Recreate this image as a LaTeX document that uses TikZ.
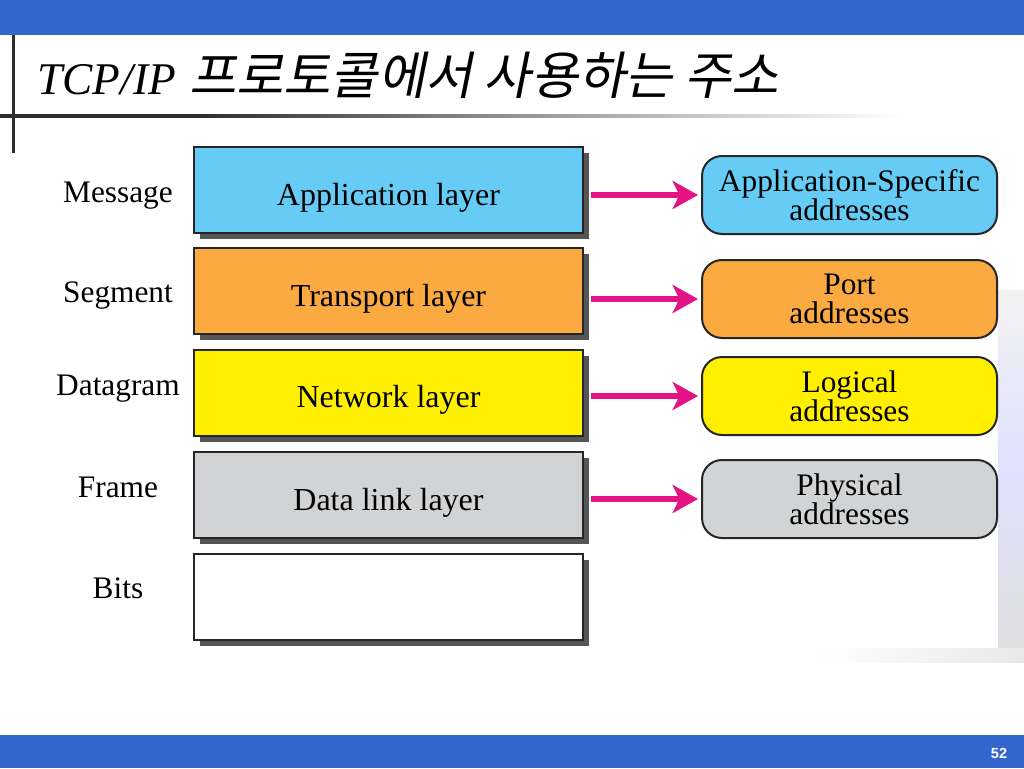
\documentclass[tikz,border=0pt]{standalone}
\usepackage{fontspec}
\setmainfont{Liberation Serif}
\newfontfamily\krfont[FakeSlant=0.2]{Noto Sans CJK KR}
\newfontfamily\numfont{Liberation Sans}
\usetikzlibrary{shadows,arrows.meta}
\definecolor{barblue}{RGB}{51,102,204}
\definecolor{appblue}{RGB}{102,204,245}
\definecolor{tporange}{RGB}{250,170,65}
\definecolor{netyellow}{RGB}{255,240,0}
\definecolor{dlgray}{RGB}{210,211,213}
\definecolor{shadowgray}{RGB}{85,85,85}
\definecolor{arrmag}{RGB}{228,20,135}
\definecolor{linedark}{RGB}{45,45,45}
\pgfdeclarehorizontalshading{titlerule}{100bp}{color(0bp)=(linedark); color(25bp)=(linedark); color(36bp)=(linedark); color(52bp)=(linedark!55); color(75bp)=(white); color(100bp)=(white)}
\tikzset{
  layerbox/.style={draw=black!85, line width=1.5pt, minimum width=291.75pt, minimum height=64.5pt,
    text height=22.5pt, text depth=0pt, font=\fontsize{24}{26}\selectfont,
    drop shadow={shadow xshift=4.5pt, shadow yshift=-4.5pt, fill=shadowgray, opacity=1}},
  addrbox/.style={draw=black!85, line width=1.5pt, rounded corners=15pt, minimum width=221.25pt,
    minimum height=58.5pt, align=center, font=\fontsize{23.5}{21.5}\selectfont},
  unitlabel/.style={anchor=base, font=\fontsize{23.5}{26}\selectfont},
  maparrow/.style={draw=arrmag, line width=4.5pt, shorten <=5.25pt, shorten >=2.25pt,
    -{Stealth[length=19pt,width=21pt,inset=5pt]}}
}
\begin{document}
\begin{tikzpicture}[x=0.75pt,y=-0.75pt]
\useasboundingbox (0,0) rectangle (1024,768);
\fill[white] (0,0) rectangle (1024,768);
% faded background picture at right edge
\shade[top color=gray!10, bottom color=gray!25, middle color=blue!12] (998,290) rectangle (1024,648);
\shade[left color=white, right color=gray!18] (815,648) rectangle (1024,662);
% bars
\fill[barblue] (0,0) rectangle (1024,35);
\fill[barblue] (0,735) rectangle (1024,768);
\node[text=white, font=\numfont\bfseries\fontsize{11}{11}\selectfont] (pagenum) at (999,753) {52};
% title decoration lines
\draw[line width=2.25pt, linedark] (13,35) -- (13,153);
\shade[shading=titlerule] (0,114.5) rectangle (900,117.5);
% title
\node[anchor=base west, inner sep=0pt, text=black, font=\fontsize{34}{36}\selectfont] (title) at (37,94)
  {\textit{TCP/IP}\hspace{10pt}{\krfont\fontsize{38.5}{40}\selectfont 프로토콜에서 사용하는 주소}};
% layer boxes
\node[layerbox, fill=appblue] (app) at (388.5,190) {Application layer};
\node[layerbox, fill=tporange] (tp) at (388.5,291) {Transport layer};
\node[layerbox, fill=netyellow] (net) at (388.5,392.5) {Network layer};
\node[layerbox, fill=dlgray] (dl) at (388.5,495) {Data link layer};
\node[layerbox, fill=white] (phy) at (388.5,596.5) {};
% unit labels
\node[unitlabel] (msg) at (118,202) {Message};
\node[unitlabel] (seg) at (118,302) {Segment};
\node[unitlabel] (dgm) at (118,395) {Datagram};
\node[unitlabel] (frm) at (118,497) {Frame};
\node[unitlabel] (bits) at (118,598) {Bits};
% address boxes
\node[addrbox, fill=appblue] (appaddr) at (849.5,195) {Application-Specific\\addresses};
\node[addrbox, fill=tporange] (portaddr) at (849.5,299) {Port\\addresses};
\node[addrbox, fill=netyellow] (logaddr) at (849.5,396) {Logical\\addresses};
\node[addrbox, fill=dlgray] (phyaddr) at (849.5,499) {Physical\\addresses};
% arrows
\draw[maparrow] (app.east |- appaddr.west) -- (appaddr.west);
\draw[maparrow] (tp.east |- portaddr.west) -- (portaddr.west);
\draw[maparrow] (net.east |- logaddr.west) -- (logaddr.west);
\draw[maparrow] (dl.east |- phyaddr.west) -- (phyaddr.west);
\end{tikzpicture}
\end{document}
